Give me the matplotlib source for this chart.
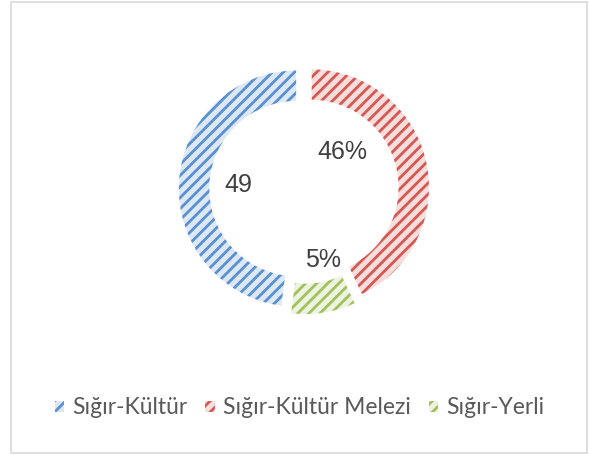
import matplotlib.pyplot as plt
from matplotlib.patches import Patch, Rectangle

# data (legend order); slice sizes as drawn, label texts as printed
labels = ['Sığır-Kültür', 'Sığır-Kültür Melezi', 'Sığır-Yerli']
values = [48, 43, 9]
value_text = ['49', '46%', '5%']

# colours: stripe colour and light background
stripe = ['#5a90d2', '#d65853', '#a0c25c']
light = ['#dde8f5', '#f6dedd', '#edf3e0']

# label offsets from the centre (in radius units), placed by hand like Excel
label_pos = [(-0.555, 0.034), (0.32, 0.31), (0.16, -0.60)]

W, H = 589, 455
fig = plt.figure(figsize=(W / 100, H / 100), dpi=100)
ax = fig.add_axes([0, 0, 1, 1])
ax.axis('off')

R = 119  # outer radius in pixels
cx, cy = 304, 189  # centre in pixels from top-left

plt.rcParams['hatch.linewidth'] = 2.0

total = sum(values)
start = 90 - 360 * (total - values[0]) / total
explode = [0.059] * len(values)

wedges, _ = ax.pie(values, radius=1, startangle=start, counterclock=False,
                   explode=explode, colors=light,
                   wedgeprops=dict(width=0.27, linewidth=0))
for w, c in zip(wedges, stripe):
    w.set_edgecolor(c)
    w.set_hatch('///')

# soft white outlines on top
ax.pie(values, radius=1, startangle=start, counterclock=False,
       explode=explode, colors=['none'] * len(values),
       wedgeprops=dict(width=0.27, linewidth=1.2, edgecolor='white'))

ax.set_xlim(-cx / R, (W - cx) / R)
ax.set_ylim(-(H - cy) / R, cy / R)

for txt, (x, y) in zip(value_text, label_pos):
    ax.text(x, y, txt, ha='center', va='center', fontsize=18,
            family='Liberation Sans', color='#404040')

handles = [Patch(facecolor=l, edgecolor=s, hatch='///', linewidth=0)
           for l, s in zip(light, stripe)]
fig.legend(handles, labels, loc='center', bbox_to_anchor=(0.508, 1 - 408 / H),
           ncol=3, frameon=False, prop=dict(family='Lato', size=16.5),
           labelcolor='#595959', handlelength=0.4, handleheight=0.4,
           handletextpad=0.35, columnspacing=0.8)

fig.patches.append(Rectangle((11 / W, 2 / H), (W - 13) / W, (H - 4) / H,
                             transform=fig.transFigure, fill=False,
                             edgecolor='#d9d9d9', linewidth=1.2))

fig.savefig('out.png', dpi=100)
